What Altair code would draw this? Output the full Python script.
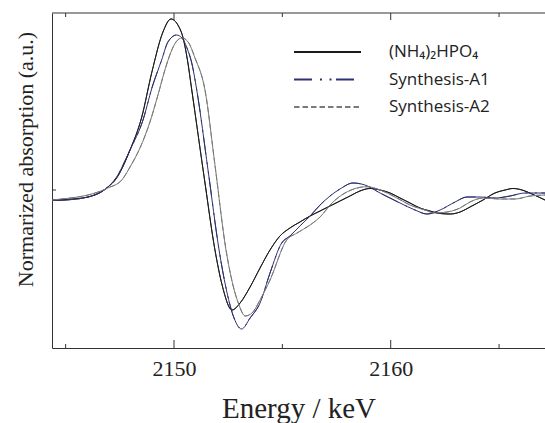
import altair as alt
import pandas as pd

series_names = ["(NH₄)₂HPO₄", "Synthesis-A1", "Synthesis-A2"]
series_colors = ["#1a1a1a", "#2e3172", "#7a7a7a"]
series_dashes = [[1, 0], [18, 8, 2, 7.5, 2, 4.5], [5.5, 3]]

e_ref = [2144.37, 2145.02, 2146.03, 2146.95, 2147.32, 2147.97, 2148.50, 2148.98, 2149.49, 2149.86,
         2150.18, 2150.42, 2150.62, 2150.82, 2151.41, 2151.89, 2152.22, 2152.68, 2153.05, 2153.51,
         2153.97, 2154.43, 2154.89, 2155.35, 2155.81, 2156.28, 2156.74, 2157.20, 2157.66, 2158.12,
         2158.58, 2159.04, 2159.51, 2159.97, 2160.43, 2160.89, 2161.35, 2161.81, 2162.28, 2162.74,
         2163.20, 2163.66, 2164.26, 2164.81, 2165.28, 2165.64, 2166.06, 2166.52, 2167.12]
a_ref = [-0.10, -0.095, -0.07, 0.03, 0.11, 0.40, 0.72, 1.18, 1.58, 1.71,
         1.65, 1.52, 1.30, 1.00, 0.10, -0.60, -0.95, -1.20, -1.13, -0.97,
         -0.78, -0.60, -0.46, -0.38, -0.32, -0.26, -0.21, -0.16, -0.11, -0.06,
         -0.01, 0.015, 0.00, -0.03, -0.08, -0.13, -0.18, -0.21, -0.235, -0.24,
         -0.22, -0.17, -0.10, -0.03, 0.00, 0.015, 0.00, -0.04, -0.10]

e_a1 = [2144.37, 2145.02, 2146.03, 2146.95, 2147.32, 2147.97, 2148.57, 2148.98, 2149.43, 2149.72,
        2150.12, 2150.37, 2150.60, 2150.83, 2151.05, 2151.57, 2152.08, 2152.40, 2152.72, 2153.12,
        2153.51, 2153.97, 2154.43, 2154.97, 2155.35, 2155.81, 2156.28, 2156.74, 2157.20, 2157.66,
        2158.26, 2158.81, 2159.51, 2160.43, 2161.12, 2161.68, 2162.28, 2162.97, 2163.52, 2164.12,
        2164.81, 2165.51, 2166.20, 2167.12]
a_a1 = [-0.105, -0.10, -0.07, 0.03, 0.12, 0.40, 0.70, 1.02, 1.30, 1.48,
        1.55, 1.52, 1.42, 1.26, 1.00, 0.20, -0.60, -0.98, -1.25, -1.39,
        -1.28, -1.13, -0.83, -0.53, -0.46, -0.36, -0.26, -0.15, -0.06, 0.01,
        0.07, 0.05, -0.03, -0.13, -0.20, -0.24, -0.20, -0.12, -0.07, -0.07,
        -0.08, -0.06, -0.03, -0.03]

e_a2 = [2144.37, 2145.02, 2146.03, 2146.95, 2147.59, 2147.97, 2148.43, 2148.89, 2149.26, 2149.58,
        2149.86, 2150.09, 2150.37, 2150.65, 2150.97, 2151.43, 2151.89, 2152.40, 2152.72, 2153.00,
        2153.28, 2153.60, 2153.97, 2154.43, 2155.20, 2155.68, 2156.28, 2156.74, 2157.29, 2157.89,
        2158.91, 2159.51, 2160.20, 2160.89, 2161.58, 2162.04, 2162.60, 2163.20, 2163.66, 2164.26,
        2165.04, 2165.74, 2166.43, 2167.12]
a_a2 = [-0.10, -0.085, -0.05, 0.02, 0.10, 0.23, 0.42, 0.68, 0.95, 1.20,
        1.38, 1.48, 1.52, 1.48, 1.32, 1.00, 0.25, -0.60, -0.95, -1.15,
        -1.26, -1.23, -1.10, -0.90, -0.50, -0.43, -0.35, -0.27, -0.13, -0.03,
        0.033, 0.00, -0.07, -0.15, -0.20, -0.23, -0.22, -0.18, -0.12, -0.08,
        -0.09, -0.09, -0.06, -0.05]

x_major = [2150, 2160]
x_minor = [2145, 2155, 2165]
y_ticks = [0]

x_domain = [2144.37, 2167.12]
y_domain = [-1.58, 1.77]

W, H = 493, 335

rows = []
for name, es, vals in [(series_names[0], e_ref, a_ref),
                       (series_names[1], e_a1, a_a1),
                       (series_names[2], e_a2, a_a2)]:
    for e, v in zip(es, vals):
        rows.append({"series": name, "energy": e, "absorb": v})
df = pd.DataFrame(rows)

xscale = alt.Scale(domain=x_domain, nice=False, zero=False)
yscale = alt.Scale(domain=y_domain, nice=False, zero=False)
color_scale = alt.Scale(domain=series_names, range=series_colors)
dash_scale = alt.Scale(domain=series_names, range=series_dashes)

serif = "Liberation Serif"

leg = alt.Legend(title=None, orient="none", legendX=241, legendY=28, padding=0,
                 symbolType="stroke", symbolSize=67 * 67, symbolStrokeWidth=2,
                 clipHeight=22, rowPadding=5.5, labelOffset=27,
                 labelFont="Open Sans", labelFontSize=17, labelColor="#222",
                 labelLimit=300)

# dashed copy underneath (carries the legend and axes), solid lines drawn on top
legend_layer = alt.Chart(df).mark_line(strokeWidth=1, interpolate="monotone", clip=True).encode(
    x=alt.X("energy:Q", scale=xscale, title="Energy / keV",
            axis=alt.Axis(orient="bottom", values=x_major, format="d", ticks=False, tickSize=0,
                          grid=False, domain=True, domainColor="#333", domainWidth=1,
                          labelFont=serif, labelFontSize=22, labelColor="#222", labelPadding=10,
                          titleFont=serif, titleFontSize=29, titleFontWeight="normal",
                          titleColor="#222", titlePadding=15)),
    y=alt.Y("absorb:Q", scale=yscale, title="Normarized absorption (a.u.)",
            axis=alt.Axis(orient="left", values=y_ticks, labels=False, ticks=False, tickSize=0,
                          grid=False, domain=True, domainColor="#333", domainWidth=1,
                          titleFont=serif, titleFontSize=22, titleFontWeight="normal",
                          titleColor="#222", titlePadding=15, titleY=146)),
    color=alt.Color("series:N", scale=color_scale, legend=leg),
    strokeDash=alt.StrokeDash("series:N", scale=dash_scale, legend=leg),
    detail="series:N",
)

lines = alt.Chart(df).mark_line(strokeWidth=1, interpolate="monotone", clip=True).encode(
    x=alt.X("energy:Q", scale=xscale, axis=None),
    y=alt.Y("absorb:Q", scale=yscale, axis=None),
    color=alt.Color("series:N", scale=color_scale, legend=None),
    detail="series:N",
)

df_major = pd.DataFrame({"v": x_major})
df_minor = pd.DataFrame({"v": x_minor})
df_y = pd.DataFrame({"v": y_ticks})

tick_color = "#333"

top_border = alt.Chart(df_y).mark_rule(color=tick_color, strokeWidth=1).encode(
    x=alt.value(0), x2=alt.value(W), y=alt.value(0),
)
top_major = alt.Chart(df_major).mark_rule(color=tick_color, strokeWidth=1).encode(
    x=alt.X("v:Q", scale=xscale, axis=None),
    y=alt.value(0), y2=alt.value(7),
)
bottom_major = alt.Chart(df_major).mark_rule(color=tick_color, strokeWidth=1).encode(
    x=alt.X("v:Q", scale=xscale, axis=None),
    y=alt.value(H - 8), y2=alt.value(H),
)
bottom_minor = alt.Chart(df_minor).mark_rule(color=tick_color, strokeWidth=1).encode(
    x=alt.X("v:Q", scale=xscale, axis=None),
    y=alt.value(H - 4), y2=alt.value(H),
)
top_minor = alt.Chart(df_minor).mark_rule(color=tick_color, strokeWidth=1).encode(
    x=alt.X("v:Q", scale=xscale, axis=None),
    y=alt.value(0), y2=alt.value(4),
)
left_tick = alt.Chart(df_y).mark_rule(color=tick_color, strokeWidth=1).encode(
    y=alt.Y("v:Q", scale=yscale, axis=None),
    x=alt.value(0), x2=alt.value(4),
)

chart = alt.layer(
    legend_layer, lines, top_border, top_major, bottom_major, bottom_minor, top_minor, left_tick
).resolve_axis(x="independent", y="independent").properties(
    width=W, height=H,
    autosize=alt.AutoSizeParams(type="none"),
    padding={"left": 52, "top": 13, "right": 0, "bottom": 75},
    background="white",
).configure_view(stroke=None)

chart.save("out.html", embed_options={"renderer": "svg", "actions": False})
